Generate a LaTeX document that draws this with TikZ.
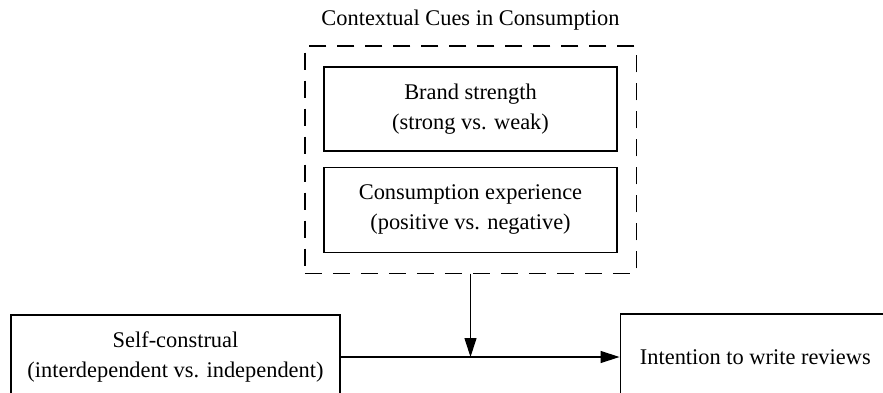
\documentclass[tikz,border=0pt]{standalone}
\usepackage{fontspec}
\setmainfont{Liberation Serif}
\usetikzlibrary{shapes,arrows.meta,positioning,fit}

\begin{document}
\begin{tikzpicture}[x=1pt,y=1pt,
    box/.style={rectangle, draw, line width=1.1pt, align=center, font=\fontsize{22.4}{30}\selectfont},
    link/.style={draw, line width=1.1pt, -{Triangle[length=19pt,width=12pt]}}]
    \useasboundingbox (0,0) rectangle (883,392);

    	%-----Variables-----
        % Self-construal
        \node [box, minimum width=329pt, minimum height=84pt] (self) at (175.5,35) {%
            Self-construal \\
            (interdependent vs. independent)
        };

        % Intention to write reviews
        \node [box, minimum width=276pt, minimum height=86pt, right=279pt of self] (intent) {%
            Intention to write reviews
        };

        % Brand strength
        \node [box, minimum width=293pt, minimum height=84pt] (brand) at (470.5,283) {%
            Brand strength \\
            (strong vs. weak)
        };

        % Consumption experience
        \node [box, minimum width=293pt, minimum height=85pt, below=15pt of brand] (cons) {%
            Consumption experience \\
            (positive vs. negative)
        };

        % Contextual cues frame
        \node [rectangle, draw, line width=1.1pt, dash pattern=on 17pt off 11pt,
               fit=(brand)(cons), inner xsep=18.5pt, inner ysep=20.5pt] (ctx) {};

        % Frame title
        \node [font=\fontsize{22.4}{30}\selectfont, inner sep=0pt, above=15pt of ctx] (title) {%
            Contextual Cues in Consumption
        };

        %-----Links-----
        \draw [link] (self) -- (intent);
        \draw [link] (ctx) -- (ctx.south |- self.east);

\end{tikzpicture}
\end{document}
